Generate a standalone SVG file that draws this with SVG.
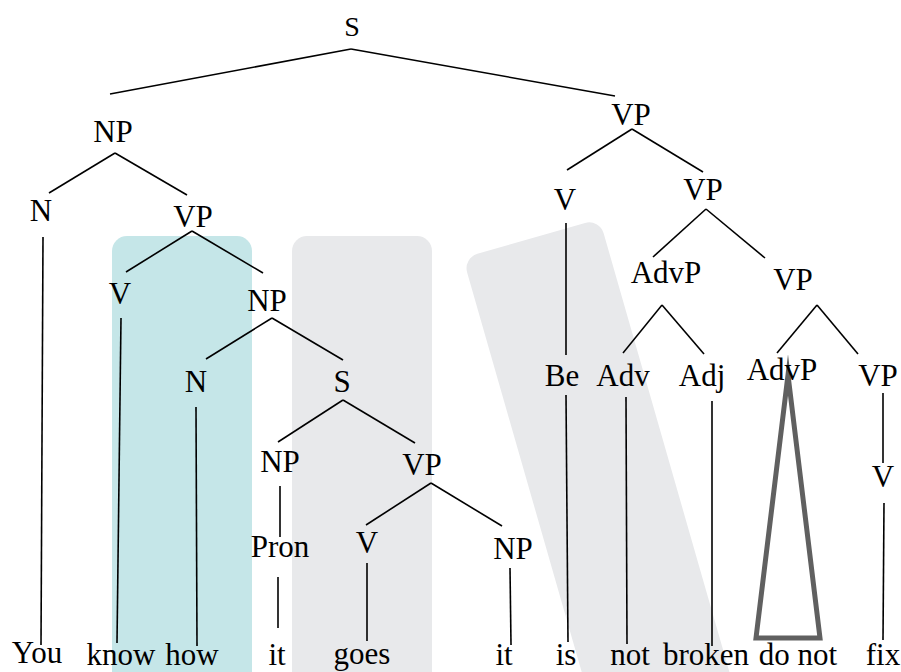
<svg xmlns="http://www.w3.org/2000/svg" width="901" height="672" viewBox="0 0 901 672">
<style>
.t{font-family:'Liberation Serif','Times New Roman',serif;font-size:31px;fill:#000;text-anchor:middle}
.e line{stroke:#000;stroke-width:1.6;stroke-linecap:butt}
.tri{fill:none;stroke:#606060;stroke-width:5;stroke-linejoin:miter;stroke-miterlimit:12}
</style>
<rect width="901" height="672" fill="#fff"/>
<g id="highlights">
<rect x="112" y="236" width="140" height="480" rx="15" fill="#c5e6e8"/>
<rect x="292" y="236" width="140" height="480" rx="15" fill="#e8e9eb"/>
<rect x="0" y="0" width="142" height="520" rx="15" fill="#e8e9eb" transform="translate(463,258) rotate(-16)"/>
</g>
<g id="connectors" class="e">
<line x1="351" y1="49" x2="110" y2="94"/>
<line x1="351" y1="49" x2="615" y2="96"/>
<line x1="115" y1="153" x2="49" y2="193"/>
<line x1="115" y1="153" x2="187" y2="195"/>
<line x1="43" y1="237" x2="41" y2="645"/>
<line x1="192" y1="231" x2="126" y2="272"/>
<line x1="192" y1="231" x2="263" y2="273"/>
<line x1="121" y1="318" x2="117" y2="643"/>
<line x1="272" y1="318" x2="206" y2="359"/>
<line x1="272" y1="318" x2="343" y2="360"/>
<line x1="196" y1="407" x2="197" y2="646"/>
<line x1="343" y1="400" x2="278" y2="442"/>
<line x1="343" y1="400" x2="415" y2="443"/>
<line x1="280" y1="486" x2="280" y2="537"/>
<line x1="278" y1="577" x2="278" y2="628"/>
<line x1="431" y1="483" x2="366" y2="525"/>
<line x1="431" y1="483" x2="502" y2="526"/>
<line x1="367" y1="563" x2="367" y2="641"/>
<line x1="510" y1="568" x2="511" y2="645"/>
<line x1="632" y1="129" x2="567" y2="170"/>
<line x1="632" y1="129" x2="703" y2="172"/>
<line x1="566" y1="223" x2="566" y2="355"/>
<line x1="566" y1="395" x2="568" y2="642"/>
<line x1="706" y1="209" x2="653" y2="257"/>
<line x1="706" y1="209" x2="765" y2="258"/>
<line x1="662" y1="305" x2="623" y2="353"/>
<line x1="662" y1="305" x2="704" y2="354"/>
<line x1="626" y1="397" x2="627" y2="644"/>
<line x1="712" y1="401" x2="712" y2="646"/>
<line x1="817" y1="305" x2="777" y2="353"/>
<line x1="817" y1="305" x2="858" y2="354"/>
<line x1="883" y1="393" x2="883" y2="463"/>
<line x1="884" y1="503" x2="883" y2="640"/>
<polygon class="tri" points="788,375 820,638 756,638"/>
</g>
<g class="t">
<g id="n-S"><text x="352" y="36" font-size="28">S</text></g>
<g id="n-NP1"><text x="113" y="142">NP</text></g>
<g id="n-N1"><text x="41" y="221">N</text></g>
<g id="n-VP1"><text x="193" y="227">VP</text></g>
<g id="n-VP2"><text x="631" y="125">VP</text></g>
<g id="n-V2"><text x="565" y="210">V</text></g>
<g id="n-VP3"><text x="703" y="200">VP</text></g>
<g id="n-V1"><text x="120" y="304">V</text></g>
<g id="n-NP2"><text x="267" y="311">NP</text></g>
<g id="n-N2"><text x="196" y="392">N</text></g>
<g id="n-S2"><text x="342" y="392">S</text></g>
<g id="n-AdvP1"><text x="666" y="283">AdvP</text></g>
<g id="n-VP4"><text x="793" y="290">VP</text></g>
<g id="n-NP3"><text x="280" y="472">NP</text></g>
<g id="n-VP5"><text x="422" y="475">VP</text></g>
<g id="n-Be"><text x="562" y="386">Be</text></g>
<g id="n-Adv"><text x="623" y="386">Adv</text></g>
<g id="n-Adj"><text x="702" y="386">Adj</text></g>
<g id="n-AdvP2"><text x="782" y="380">AdvP</text></g>
<g id="n-VP6"><text x="878" y="386">VP</text></g>
<g id="n-Pron"><text x="280" y="557">Pron</text></g>
<g id="n-V3"><text x="367" y="553">V</text></g>
<g id="n-NP4"><text x="513" y="559">NP</text></g>
<g id="n-V4"><text x="883" y="487">V</text></g>
<g id="w-You"><text x="37" y="663">You</text></g>
<g id="w-know"><text x="121" y="665">know</text></g>
<g id="w-how"><text x="192" y="665">how</text></g>
<g id="w-it1"><text x="277" y="665">it</text></g>
<g id="w-goes"><text x="362" y="664">goes</text></g>
<g id="w-it2"><text x="504" y="665">it</text></g>
<g id="w-is"><text x="566" y="665">is</text></g>
<g id="w-not"><text x="630" y="665">not</text></g>
<g id="w-broken"><text x="706" y="665">broken</text></g>
<g id="w-donot"><text x="798" y="665">do not</text></g>
<g id="w-fix"><text x="883" y="665">fix</text></g>
</g>
</svg>
